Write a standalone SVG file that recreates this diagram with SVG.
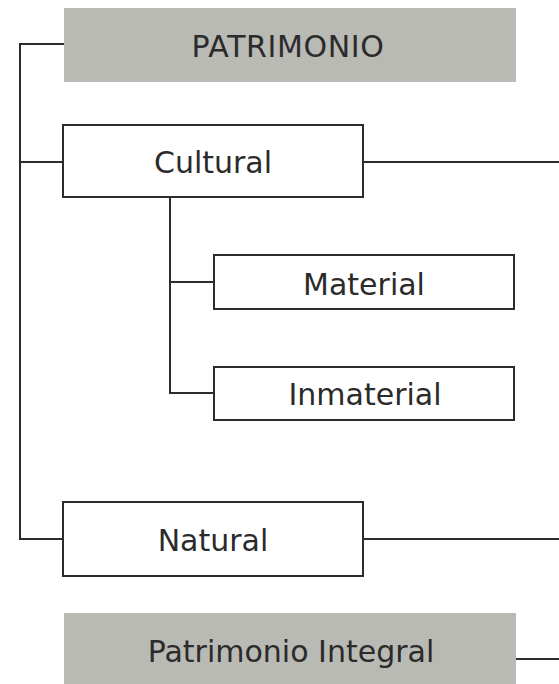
<svg xmlns="http://www.w3.org/2000/svg" width="559" height="684" viewBox="0 0 559 684">
  <style>
    .bg { fill: #ffffff; }
    .gray { fill: #b9bab4; stroke: none; }
    .box { fill: #ffffff; stroke: #2d2b2c; stroke-width: 2; }
    .lbl { font-family: "DejaVu Sans", "Liberation Sans", sans-serif; font-size: 30px; fill: #2b2b2b; text-anchor: middle; }
    .conn { fill: none; stroke: #2d2b2c; stroke-width: 2; }
  </style>
  <rect class="bg" x="0" y="0" width="559" height="684"/>
  <g id="connectors">
    <polyline class="conn" points="64,44 20,44 20,539 63,539"/>
    <line class="conn" x1="20" y1="162" x2="63" y2="162"/>
    <line class="conn" x1="363" y1="162" x2="559" y2="162"/>
    <line class="conn" x1="363" y1="539" x2="559" y2="539"/>
    <line class="conn" x1="516" y1="659" x2="559" y2="659"/>
    <polyline class="conn" points="170,198 170,393 214,393"/>
    <line class="conn" x1="170" y1="282" x2="214" y2="282"/>
  </g>
  <g id="patrimonio">
    <rect class="gray" x="64" y="8" width="452" height="74"/>
    <text class="lbl" x="288" y="57" style="letter-spacing:0.6px">PATRIMONIO</text>
  </g>
  <g id="cultural">
    <rect class="box" x="63" y="125" width="300" height="72"/>
    <text class="lbl" x="213" y="173">Cultural</text>
  </g>
  <g id="material">
    <rect class="box" x="214" y="255" width="300" height="54"/>
    <text class="lbl" x="364" y="295">Material</text>
  </g>
  <g id="inmaterial">
    <rect class="box" x="214" y="367" width="300" height="53"/>
    <text class="lbl" x="365" y="405">Inmaterial</text>
  </g>
  <g id="natural">
    <rect class="box" x="63" y="502" width="300" height="74"/>
    <text class="lbl" x="213" y="551">Natural</text>
  </g>
  <g id="patrimonio-integral">
    <rect class="gray" x="64" y="613" width="452" height="71"/>
    <text class="lbl" x="291" y="662">Patrimonio Integral</text>
  </g>
</svg>
